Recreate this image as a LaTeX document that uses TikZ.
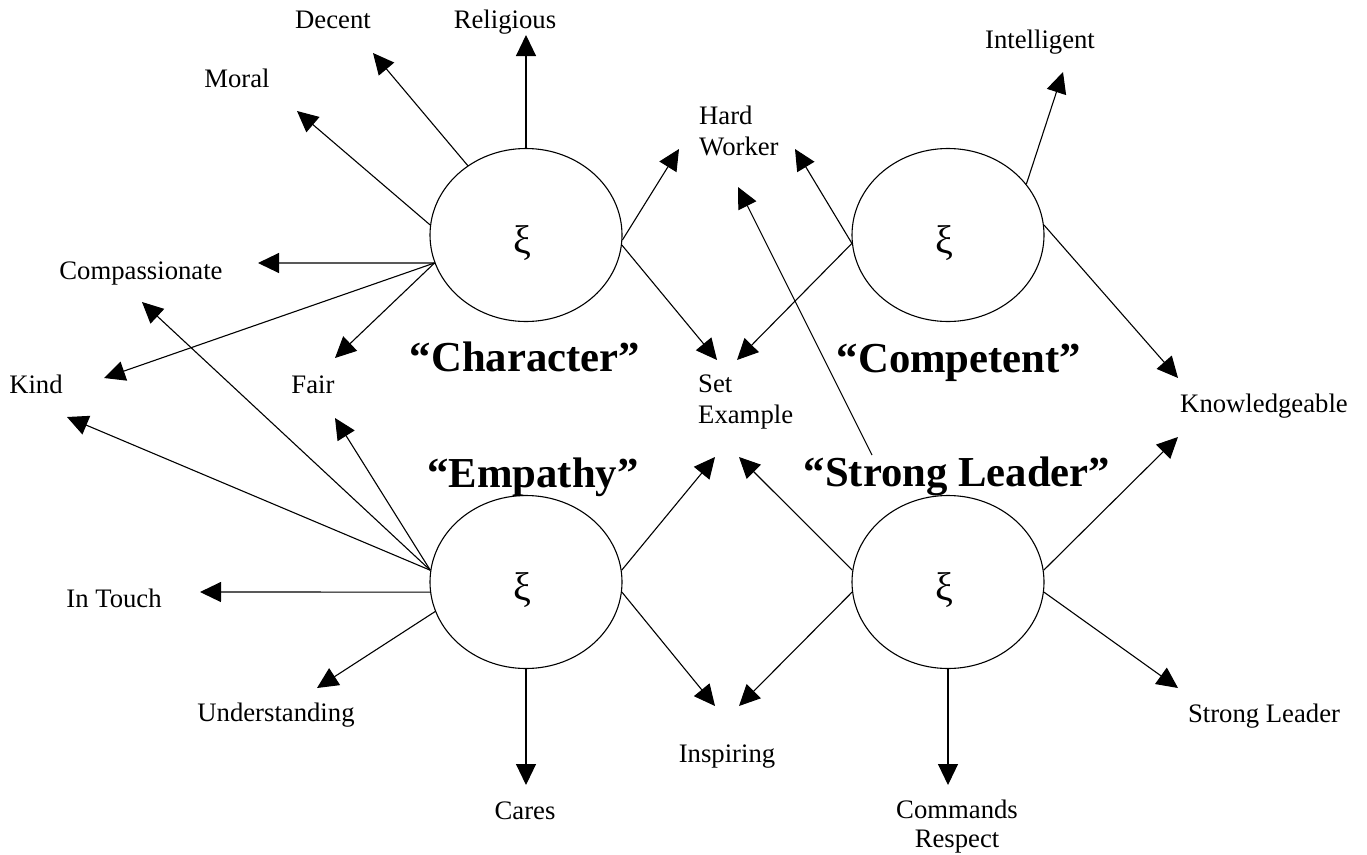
\documentclass[tikz,border=0pt]{standalone}
\usepackage{fontspec}
\setmainfont{Liberation Serif}
\usetikzlibrary{shapes.geometric,arrows.meta}
\newcommand{\itemfont}{\fontsize{26.7}{31}\selectfont}
\newcommand{\titlefont}{\fontsize{42.7}{48}\selectfont\bfseries}
\tikzset{
  construct/.style={
    draw, ellipse, line width=1.1pt,
    minimum width=192pt, minimum height=173pt, inner sep=0pt
  },
  xi/.style={font=\fontsize{40}{42}\selectfont, inner sep=0pt},
  item/.style={font=\itemfont, inner sep=0pt, anchor=base},
  title/.style={font=\titlefont, inner sep=0pt, anchor=base},
  loading/.style={
    line width=1.1pt, -{Triangle[length=21pt,width=20pt]}
  }
}

\begin{document}
\begin{tikzpicture}[x=1pt,y=-1pt]
\useasboundingbox (0,0) rectangle (1367,854);

% the four constructs
\node[construct] (char) at (526,235) {};
\node[construct] (comp) at (948,235) {};
\node[construct] (emp)  at (526,582) {};
\node[construct] (lead) at (948,582) {};
\node[xi] (char-xi) at (522,243) {ξ};
\node[xi] (comp-xi) at (944,243) {ξ};
\node[xi] (emp-xi)  at (522,590) {ξ};
\node[xi] (lead-xi) at (944,590) {ξ};

\node[title] (char-t) at (525,371) {“Character”};
\node[title] (comp-t) at (959,372) {“Competent”};
\node[title] (emp-t)  at (533,487) {“Empathy”};
\node[title] (lead-t) at (957,486) {“Strong Leader”};

% items
\node[item] (religious) at (505,28)  {Religious};
\node[item] (decent)    at (333,28)  {Decent};
\node[item] (moral)     at (237,87)  {Moral};
\node[item] (compass)   at (141,279) {Compassionate};
\node[item] (kind)      at (36,393)  {Kind};
\node[item] (fair)      at (313,393) {Fair};
\node[item] (intouch)   at (114,607) {In Touch};
\node[item] (underst)   at (276,721) {Understanding};
\node[item] (cares)     at (525,819) {Cares};
\node[item] (inspiring) at (727,762) {Inspiring};
\node[item] (intell)    at (1040,48) {Intelligent};
\node[item] (knowl)     at (1264,412) {Knowledgeable};
\node[item] (strong)    at (1264,722) {Strong Leader};
\node[item, align=left, anchor=north west] (hardw) at (699,106) {Hard\\Worker};
\node[item, align=left, anchor=north west] (setex) at (698,375) {Set\\Example};
\node[item, align=center, anchor=north, font=\fontsize{26.7}{29}\selectfont] (commands) at (957,800) {Commands\\Respect};

% arrow ends
\coordinate (religious-in) at (526,35);
\coordinate (decent-in)    at (373,53);
\coordinate (moral-in)     at (297,111);
\coordinate (compass-in1)  at (258,263);
\coordinate (compass-in2)  at (142,302);
\coordinate (kind-in1)     at (104,378);
\coordinate (kind-in2)     at (67,417);
\coordinate (fair-in1)     at (335,358);
\coordinate (fair-in2)     at (335,418);
\coordinate (intouch-in)   at (200,592);
\coordinate (underst-in)   at (317,688);
\coordinate (cares-in)     at (526,785);
\coordinate (hardw-in1)    at (679,149);
\coordinate (hardw-in2)    at (795,149);
\coordinate (hardw-in3)    at (738,187);
\coordinate (setex-in1)    at (717,360);
\coordinate (setex-in2)    at (737,360);
\coordinate (setex-in3)    at (715,457);
\coordinate (setex-in4)    at (739,457);
\coordinate (inspiring-in1) at (715,706);
\coordinate (inspiring-in2) at (739,706);
\coordinate (intell-in)    at (1063,72);
\coordinate (knowl-in1)    at (1178,378);
\coordinate (knowl-in2)    at (1178,437);
\coordinate (strong-in)    at (1178,688);
\coordinate (commands-in)  at (948,785);
\coordinate (lead-top)     at (872,455);

% Character
\draw[loading] (char.north) -- (religious-in);
\draw[loading] (char.130) -- (decent-in);
\draw[loading] (char.174) -- (moral-in);
\draw[loading] (char.197) -- (compass-in1);
\draw[loading] (char.197) -- (kind-in1);
\draw[loading] (char.197) -- (fair-in1);
\draw[loading] (char.-3) -- (hardw-in1);
\draw[loading] (char.-6) -- (setex-in1);
% Competent
\draw[loading] (comp.185) -- (hardw-in2);
\draw[loading] (comp.185) -- (setex-in2);
\draw[loading] (comp.33) -- (intell-in);
\draw[loading] (comp.6) -- (knowl-in1);
% Empathy
\draw[loading] (emp.173) -- (kind-in2);
\draw[loading] (emp.173) -- (compass-in2);
\draw[loading] (emp.173) -- (fair-in2);
\draw[loading] (emp.186) -- (intouch-in);
\draw[loading] (emp.198) -- (underst-in);
\draw[loading] (emp.south) -- (cares-in);
\draw[loading] (emp.7) -- (setex-in3);
\draw[loading] (emp.-6) -- (inspiring-in1);
% Strong Leader
\draw[loading] (lead.173) -- (setex-in4);
\draw[loading] (lead.186) -- (inspiring-in2);
\draw[loading] (lead.7) -- (knowl-in2);
\draw[loading] (lead.-6) -- (strong-in);
\draw[loading] (lead.south) -- (commands-in);
\draw[loading] (lead-top) -- (hardw-in3);
\end{tikzpicture}
\end{document}
